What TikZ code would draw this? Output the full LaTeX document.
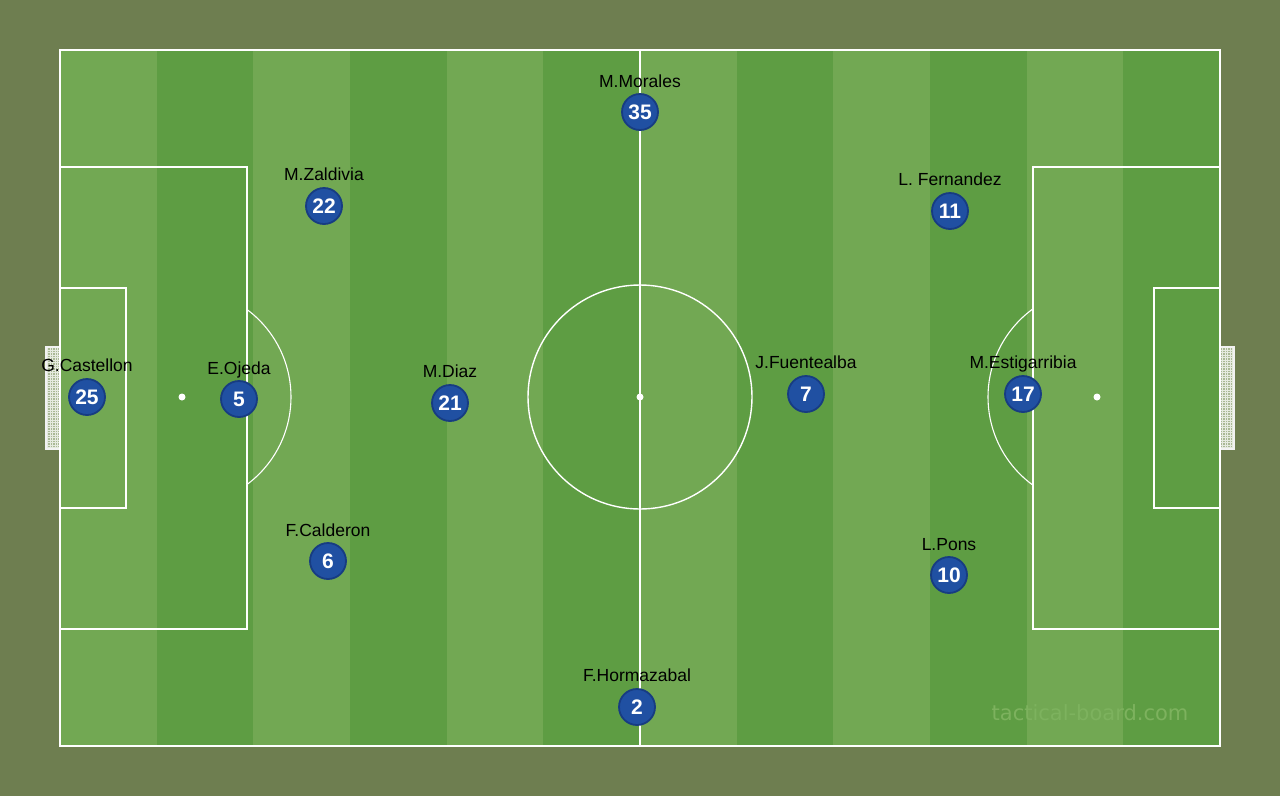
\documentclass[tikz,border=0pt]{standalone}
\usepackage{fontspec}
\setmainfont{Liberation Sans}
\newfontfamily\wmfont{DejaVu Sans}
\definecolor{bgc}{HTML}{6E7E50}
\definecolor{lightg}{HTML}{72A853}
\definecolor{darkg}{HTML}{5E9D43}
\definecolor{pblue}{HTML}{2050A2}
\definecolor{pblueedge}{HTML}{173C82}
\definecolor{netc}{HTML}{A9B894}
\definecolor{wmc}{HTML}{7DB25E}
\tikzset{
  pline/.style={draw=white, line width=1.4pt},
  player/.style={circle, fill=pblue, draw=pblueedge, line width=1.8pt, minimum size=36pt, inner sep=0pt, text=white, font=\fontsize{21}{23}\selectfont\bfseries},
  pname/.style={text=black, font=\fontsize{17.5}{20}\selectfont, inner sep=0pt, anchor=base},
  spot/.style={circle, fill=white, minimum size=7pt, inner sep=0pt}
}
\begin{document}
\begin{tikzpicture}[x=1pt,y=-1pt]
\useasboundingbox (0,0) rectangle (1280,796);
\fill[bgc] (0,0) rectangle (1280,796);
% stripes
\foreach \i in {0,...,11}{
  \pgfmathsetmacro{\xa}{60+\i*96.6667}
  \pgfmathsetmacro{\xb}{60+(\i+1)*96.6667}
  \pgfmathparse{int(mod(\i,2))}
  \ifnum\pgfmathresult=0
    \fill[lightg] (\xa,50) rectangle (\xb,746);
  \else
    \fill[darkg] (\xa,50) rectangle (\xb,746);
  \fi
}
% goals
\begin{scope}
  \clip (46,347) rectangle (60,449);
  \fill[netc] (46,347) rectangle (60,449);
  \draw[white!70!netc, line width=0.5pt, step=2.5pt] (40,340) grid (66,455);
\end{scope}
\draw[white!90!gray, line width=1.4pt] (60,347) -- (46,347) -- (46,449) -- (60,449);
\begin{scope}
  \clip (1220,347) rectangle (1234,449);
  \fill[netc] (1220,347) rectangle (1234,449);
  \draw[white!70!netc, line width=0.5pt, step=2.5pt] (1214,340) grid (1240,455);
\end{scope}
\draw[white!90!gray, line width=1.4pt] (1220,347) -- (1234,347) -- (1234,449) -- (1220,449);
% pitch lines
\draw[pline] (60,50) rectangle (1220,746);
\draw[pline] (640,50) -- (640,746);
\draw[pline] (640,397) circle[radius=112];
\draw[pline] (60,167) rectangle (247,629);
\draw[pline] (60,288) rectangle (126,508);
\draw[pline] (1220,167) rectangle (1033,629);
\draw[pline] (1220,288) rectangle (1154,508);
% arcs
\begin{scope}
  \clip (247,200) rectangle (400,600);
  \draw[pline, line width=1.1pt] (182,397) circle[radius=109];
\end{scope}
\begin{scope}
  \clip (880,200) rectangle (1033,600);
  \draw[pline, line width=1.1pt] (1097,397) circle[radius=109];
\end{scope}
\node[spot] (cs) at (640,397) {};
\node[spot] (ls) at (182,397) {};
\node[spot] (rs) at (1097,397) {};
% watermark
\node[text=wmc, font=\wmfont\fontsize{21}{24}\selectfont, inner sep=0pt] (wm) at (1090,713) {tactical-board.com};
% players
\node[player] (p25) at (87,397) {25};
\node[pname] (n25) at (87,371) {G.Castellon};
\node[player] (p5) at (239,399) {5};
\node[pname] (n5) at (239,374) {E.Ojeda};
\node[player] (p22) at (324,206) {22};
\node[pname] (n22) at (324,180) {M.Zaldivia};
\node[player] (p6) at (328,561) {6};
\node[pname] (n6) at (328,536) {F.Calderon};
\node[player] (p21) at (450,403) {21};
\node[pname] (n21) at (450,377) {M.Diaz};
\node[player] (p35) at (640,112) {35};
\node[pname] (n35) at (640,87) {M.Morales};
\node[player] (p2) at (637,707) {2};
\node[pname] (n2) at (637,681) {F.Hormazabal};
\node[player] (p7) at (806,394) {7};
\node[pname] (n7) at (806,368) {J.Fuentealba};
\node[player] (p11) at (950,211) {11};
\node[pname] (n11) at (950,185) {L. Fernandez};
\node[player] (p17) at (1023,394) {17};
\node[pname] (n17) at (1023,368) {M.Estigarribia};
\node[player] (p10) at (949,575) {10};
\node[pname] (n10) at (949,550) {L.Pons};
\end{tikzpicture}
\end{document}
